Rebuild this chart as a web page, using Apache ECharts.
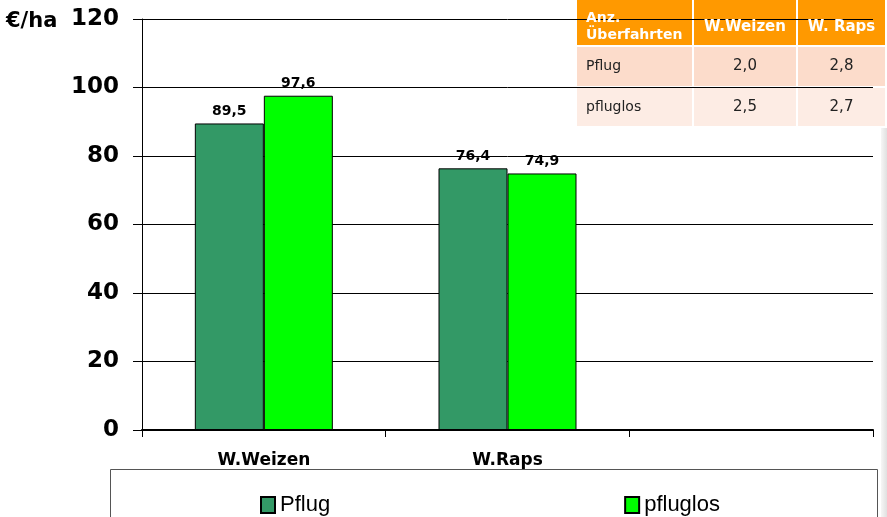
<!DOCTYPE html>
<html>
<head>
<meta charset="utf-8">
<script src="https://cdn.jsdelivr.net/npm/echarts@6/dist/echarts.min.js"></script>
<style>
  html, body { margin: 0; padding: 0; background: #fff; }
  #chart { width: 887px; height: 517px; }
</style>
</head>
<body>
<div id="chart"></div>
<script>
const categories = ['W.Weizen', 'W.Raps', '']
const pflug = [89.5, 76.4, null]
const pfluglos = [97.6, 74.9, null]

// small table top right
const tableHead = ['Anz.\nÜberfahrten', 'W.Weizen', 'W. Raps']
const tableRows = ['Pflug', 'pfluglos']
const tableValues = [[2.0, 2.8], [2.5, 2.7]]

const fmt = v => v.toFixed(1).replace('.', ',')

const chart = echarts.init(document.getElementById('chart'), null, { renderer: 'canvas' })

// table geometry
const colX = [577, 694, 798, 887]
const rowY = [0, 47, 88, 128]
const rowFill = ['#ff9900', '#fcdccb', '#fdece4']
const tableFont = '"DejaVu Sans", Verdana, sans-serif'

const tableGraphics = []
for (let r = 0; r < 3; r++) {
  for (let c = 0; c < 3; c++) {
    tableGraphics.push({
      type: 'rect',
      shape: { x: colX[c], y: rowY[r], width: colX[c + 1] - colX[c] - 2, height: rowY[r + 1] - rowY[r] - 2 },
      style: { fill: rowFill[r] },
      silent: true
    })
  }
}
tableHead.forEach((t, c) => {
  if (c === 0) {
    t.split('\n').forEach((line, i) => {
      tableGraphics.push({
        type: 'text', x: colX[0] + 9, y: 18 + i * 17, z: 10,
        style: { text: line, fill: '#fff', font: 'bold 14px ' + tableFont, align: 'left', verticalAlign: 'middle' },
        silent: true
      })
    })
  } else {
    tableGraphics.push({
      type: 'text', x: (colX[c] + colX[c + 1] - 2) / 2, y: 27, z: 10,
      style: { text: t, fill: '#fff', font: 'bold 15px ' + tableFont, align: 'center', verticalAlign: 'middle' },
      silent: true
    })
  }
})
tableRows.forEach((name, r) => {
  const cy = (rowY[r + 1] + rowY[r + 2] - 2) / 2
  tableGraphics.push({
    type: 'text', x: colX[0] + 9, y: cy, z: 10,
    style: { text: name, fill: '#222', font: '14px ' + tableFont, align: 'left', verticalAlign: 'middle' },
    silent: true
  })
  tableValues[r].forEach((v, c) => {
    tableGraphics.push({
      type: 'text', x: (colX[c + 1] + colX[c + 2] - 2) / 2, y: cy, z: 10,
      style: { text: fmt(v), fill: '#222', font: '15px ' + tableFont, align: 'center', verticalAlign: 'middle' },
      silent: true
    })
  })
})

const labelStyle = {
  show: true,
  position: 'top',
  distance: 5,
  fontFamily: 'DejaVu Sans',
  fontWeight: 'bold',
  fontSize: 14,
  color: '#000',
  formatter: p => (p.value == null ? '' : fmt(p.value))
}

const option = {
  backgroundColor: '#fff',
  animation: false,
  grid: { left: 142, right: 14, top: 19, bottom: 87 },
  legend: {
    data: ['Pflug', 'pfluglos'],
    left: 255,
    top: 489,
    icon: 'rect',
    itemWidth: 14,
    itemHeight: 16,
    itemGap: 294,
    textStyle: { fontFamily: 'Liberation Sans', fontSize: 22, color: '#000' }
  },
  xAxis: {
    type: 'category',
    data: categories,
    axisLine: { lineStyle: { color: '#000', width: 2 } },
    axisTick: { show: true, length: 7, lineStyle: { color: '#000' } },
    axisLabel: {
      margin: 22,
      fontFamily: 'DejaVu Sans',
      fontWeight: 'bold',
      fontSize: 17,
      color: '#000'
    }
  },
  yAxis: {
    type: 'value',
    min: 0,
    max: 120,
    interval: 20,
    axisLine: { show: true, lineStyle: { color: '#000' } },
    axisTick: { show: true, length: 9, lineStyle: { color: '#000' } },
    splitLine: { lineStyle: { color: '#000' } },
    axisLabel: {
      margin: 23,
      fontFamily: 'DejaVu Sans',
      fontWeight: 'bold',
      fontSize: 23,
      color: '#000'
    }
  },
  series: [
    {
      name: 'Pflug',
      type: 'bar',
      data: pflug,
      barWidth: 69,
      barGap: '0%',
      itemStyle: { color: '#339966', borderColor: '#000', borderWidth: 1 },
      label: labelStyle
    },
    {
      name: 'pfluglos',
      type: 'bar',
      data: pfluglos,
      barWidth: 69,
      itemStyle: { color: '#00ff00', borderColor: '#000', borderWidth: 1 },
      label: labelStyle
    }
  ],
  graphic: [
    {
      type: 'text', left: 6, top: 11,
      style: { text: '€/ha', fill: '#000', font: 'bold 21px "DejaVu Sans"' },
      silent: true
    },
    {
      type: 'rect', z: -1,
      shape: { x: 110.5, y: 469.5, width: 767, height: 60 },
      style: { fill: '#fff', stroke: '#555', lineWidth: 1 },
      silent: true
    },
    {
      type: 'rect',
      shape: { x: 881, y: 128, width: 6, height: 389 },
      style: {
        fill: new echarts.graphic.LinearGradient(0, 0, 1, 0, [
          { offset: 0, color: '#f6f6f6' },
          { offset: 1, color: '#e0e0e0' }
        ])
      },
      silent: true
    }
  ].concat(tableGraphics)
}

chart.setOption(option)
</script>
</body>
</html>
